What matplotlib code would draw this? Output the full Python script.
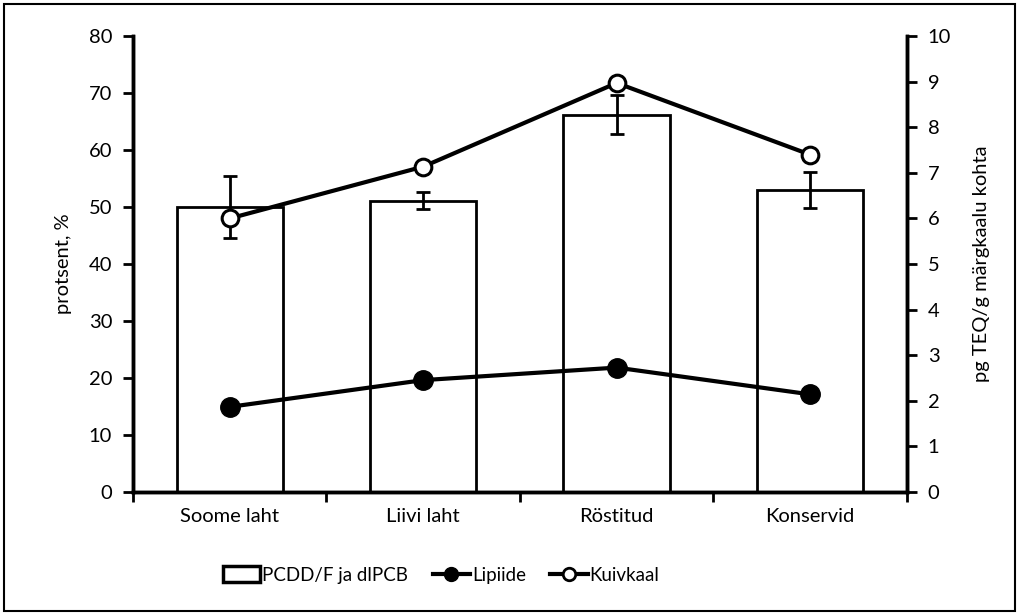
import matplotlib
matplotlib.use("Agg")
import matplotlib.pyplot as plt
from matplotlib.patches import Rectangle, Patch
from matplotlib.lines import Line2D
import numpy as np

categories = ["Soome laht", "Liivi laht", "Röstitud", "Konservid"]
pcdd_values = [6.25, 6.39, 8.28, 6.63]          # pg TEQ/g märgkaalu kohta
pcdd_errors = [0.69, 0.19, 0.43, 0.40]
lipiide_values = [14.9, 19.6, 21.8, 17.1]       # %
kuivkaal_values = [48.0, 57.1, 71.8, 59.2]      # %

plt.rcParams['font.family'] = ['Lato', 'DejaVu Sans']
fs = 14.5

fig = plt.figure(figsize=(10.19, 6.15), dpi=100)
ax = fig.add_axes([0.1305, 0.2005, 0.7595, 0.7405])
axp = ax.twinx()

x = np.arange(len(categories))
ax.bar(x, pcdd_values, width=0.55, color='white', edgecolor='black', linewidth=2.0, zorder=2)
ax.errorbar(x, pcdd_values, yerr=pcdd_errors, fmt='none', ecolor='black',
            elinewidth=2.0, capsize=5, capthick=2.0, zorder=3)
ax.set_ylim(0, 10)
ax.set_yticks(np.arange(0, 11, 1))
ax.set_xlim(-0.5, len(categories) - 0.5)

axp.plot(x, lipiide_values, color='black', linewidth=3, marker='o', markersize=14,
         markerfacecolor='black', markeredgecolor='black', zorder=4)
axp.plot(x, kuivkaal_values, color='black', linewidth=3, marker='o', markersize=12,
         markerfacecolor='white', markeredgecolor='black', markeredgewidth=2.2, zorder=4)
axp.set_ylim(0, 80)
axp.set_yticks(np.arange(0, 81, 10))

# swap sides: bar axis on the right, percent axis on the left
ax.yaxis.tick_right()
ax.yaxis.set_label_position('right')
axp.yaxis.tick_left()
axp.yaxis.set_label_position('left')
ax.set_ylabel("pg TEQ/g märgkaalu kohta", fontsize=fs, labelpad=16)
axp.set_ylabel("protsent, %", fontsize=fs, labelpad=12)

# x ticks at category boundaries, labels centered
ax.set_xticks(np.arange(-0.5, len(categories), 1.0))
ax.set_xticklabels([])
ax.set_xticks(x, minor=True)
ax.set_xticklabels(categories, minor=True, fontsize=fs)
ax.tick_params(axis='x', which='minor', length=0, pad=12)
ax.tick_params(axis='x', which='major', length=7, width=2, direction='out')

for a in (ax, axp):
    a.spines['top'].set_visible(False)
    a.spines['left'].set_linewidth(2.5)
    a.spines['right'].set_linewidth(2.5)
    a.spines['bottom'].set_linewidth(2.5)
ax.tick_params(axis='y', which='major', length=7, width=2, direction='out', labelsize=fs, pad=8)
axp.tick_params(axis='y', which='major', length=7, width=2, direction='out', labelsize=fs, pad=8)

handles = [
    Patch(facecolor='white', edgecolor='black', linewidth=2.5, label="PCDD/F ja dlPCB"),
    Line2D([], [], color='black', linewidth=3, marker='o', markersize=10,
           markerfacecolor='black', label="Lipiide"),
    Line2D([], [], color='black', linewidth=3, marker='o', markersize=9,
           markerfacecolor='white', markeredgewidth=2, label="Kuivkaal"),
]
fig.legend(handles=handles, loc='center', bbox_to_anchor=(0.433, 0.065), ncol=3,
           frameon=False, fontsize=13.5, handlelength=2.0, handleheight=0.9,
           handletextpad=0.1, columnspacing=1.3)

fig.patches.append(Rectangle((0.004, 0.006), 0.992, 0.988, transform=fig.transFigure,
                             fill=False, edgecolor='black', linewidth=1.5))

fig.savefig("out.png", dpi=100)
